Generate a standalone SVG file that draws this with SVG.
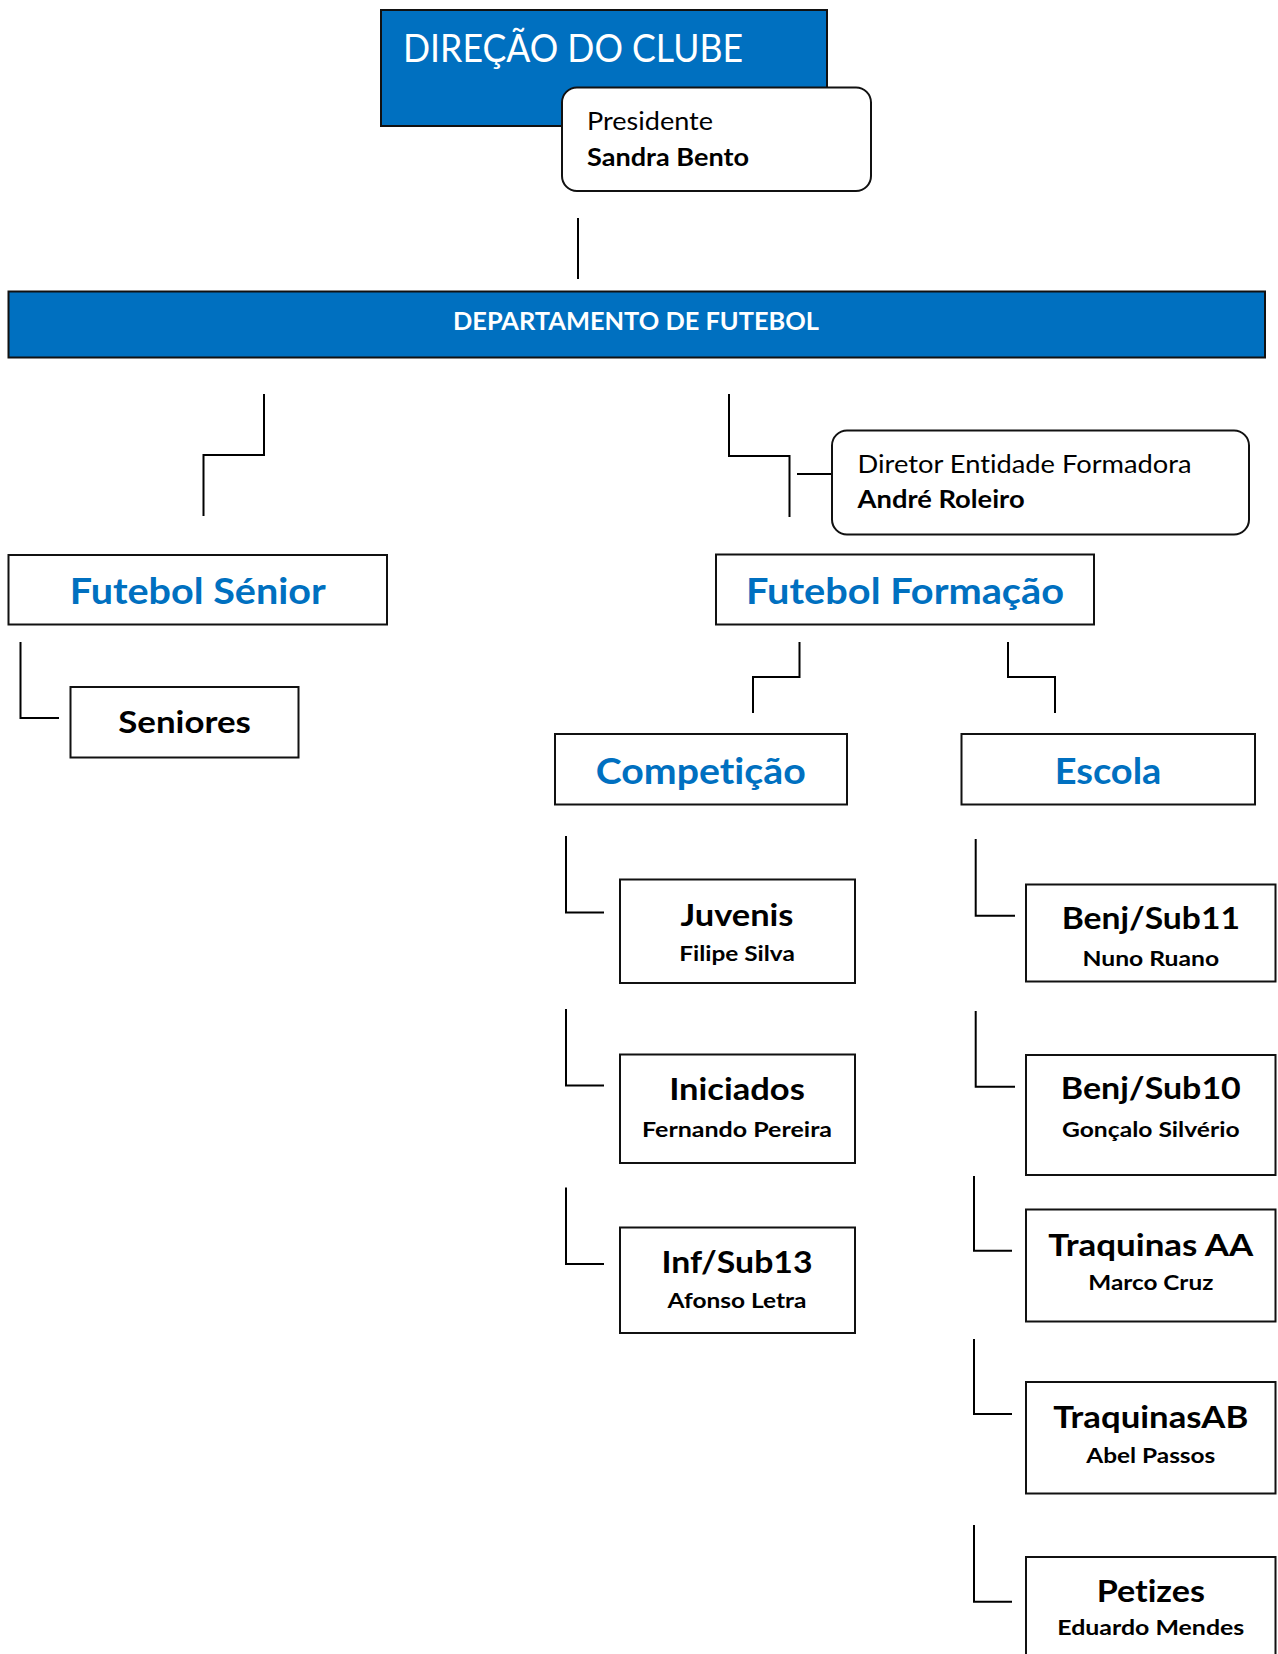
<svg xmlns="http://www.w3.org/2000/svg" width="1278" height="1654" viewBox="0 0 1278 1654">
<style>
.box{fill:#fff;stroke:#111;stroke-width:2}
.blue{fill:#0070C0;stroke:#111;stroke-width:2}
.ln{fill:none;stroke:#000;stroke-width:2}
text{font-family:Lato,"Open Sans","Liberation Sans",sans-serif;font-variant-ligatures:none;font-feature-settings:"liga" 0}
.w{fill:#fff}
.b{font-weight:bold}
.c{text-anchor:middle}
.bt{fill:#0070C0;font-weight:bold;font-size:36.5px;text-anchor:middle}
.t{fill:#000;font-weight:bold;font-size:30px;text-anchor:middle}
.s{fill:#000;font-weight:bold;font-size:21px;text-anchor:middle}
</style>
<g id="connectors">
<path class="ln" d="M578 218V279"/>
<path class="ln" d="M264 394V455H203.5V516"/>
<path class="ln" d="M729 394V456H789.5V517"/>
<path class="ln" d="M797 474H832"/>
<path class="ln" d="M20.5 642V718H59"/>
<path class="ln" d="M799.5 642V677H753V713"/>
<path class="ln" d="M1008 642V677H1055V713"/>
<path class="ln" d="M566 836V912.5H604"/>
<path class="ln" d="M566 1009V1085.5H604"/>
<path class="ln" d="M566 1187.5V1264H604"/>
<path class="ln" d="M975.7 839V915.7H1015"/>
<path class="ln" d="M975.7 1011V1086.7H1015"/>
<path class="ln" d="M974 1176V1250.7H1012"/>
<path class="ln" d="M974 1339V1414H1012"/>
<path class="ln" d="M974 1525V1601.7H1012"/>
</g>
<g id="direcao">
<rect class="blue" x="381" y="10" width="446" height="116"/>
<text class="w" x="403" y="62" font-size="37.7" textLength="340" lengthAdjust="spacingAndGlyphs">DIREÇÃO DO CLUBE</text>
</g>
<g id="presidente">
<rect class="box" x="562" y="87.5" width="309" height="103.5" rx="15"/>
<text x="587" y="130" font-size="25.5" textLength="126" lengthAdjust="spacingAndGlyphs">Presidente</text>
<text class="b" x="587" y="166" font-size="25.5" textLength="162" lengthAdjust="spacingAndGlyphs">Sandra Bento</text>
</g>
<g id="departamento">
<rect class="blue" x="8.5" y="291.5" width="1256.5" height="66"/>
<text class="w b c" x="636" y="330" font-size="25" textLength="366" lengthAdjust="spacingAndGlyphs">DEPARTAMENTO DE FUTEBOL</text>
</g>
<g id="futebol-senior">
<rect class="box" x="8.5" y="555" width="378.5" height="69.5"/>
<text class="bt" x="197.7" y="604" textLength="256" lengthAdjust="spacingAndGlyphs">Futebol Sénior</text>
</g>
<g id="diretor">
<rect class="box" x="832" y="430.5" width="417" height="104" rx="15"/>
<text x="857.6" y="472.7" font-size="25" textLength="334" lengthAdjust="spacingAndGlyphs">Diretor Entidade Formadora</text>
<text class="b" x="857.6" y="508" font-size="25" textLength="167" lengthAdjust="spacingAndGlyphs">André Roleiro</text>
</g>
<g id="futebol-formacao">
<rect class="box" x="716" y="554.5" width="378" height="70"/>
<text class="bt" x="905" y="604" textLength="318" lengthAdjust="spacingAndGlyphs">Futebol Formação</text>
</g>
<g id="seniores">
<rect class="box" x="70.5" y="687" width="228" height="70.5"/>
<text class="t" x="184.6" y="733" font-size="31" textLength="132.6" lengthAdjust="spacingAndGlyphs">Seniores</text>
</g>
<g id="competicao">
<rect class="box" x="555" y="734" width="292" height="70.5"/>
<text class="bt" x="700.7" y="784" textLength="210" lengthAdjust="spacingAndGlyphs">Competição</text>
</g>
<g id="escola">
<rect class="box" x="961.5" y="734" width="293.5" height="70.5"/>
<text class="bt" x="1108" y="784" textLength="106.7" lengthAdjust="spacingAndGlyphs">Escola</text>
</g>
<g id="juvenis">
<rect class="box" x="620" y="879.5" width="235" height="103.5"/>
<text class="t" x="737" y="925.7" textLength="113" lengthAdjust="spacingAndGlyphs">Juvenis</text>
<text class="s" x="737" y="961.4" textLength="115.7" lengthAdjust="spacingAndGlyphs">Filipe Silva</text>
</g>
<g id="iniciados">
<rect class="box" x="620" y="1054.5" width="235" height="108.5"/>
<text class="t" x="737" y="1100" textLength="135.7" lengthAdjust="spacingAndGlyphs">Iniciados</text>
<text class="s" x="737" y="1136.8" textLength="190" lengthAdjust="spacingAndGlyphs">Fernando Pereira</text>
</g>
<g id="inf-sub13">
<rect class="box" x="620" y="1227.5" width="235" height="105.5"/>
<text class="t" x="737" y="1273.2" textLength="151" lengthAdjust="spacingAndGlyphs">Inf/Sub13</text>
<text class="s" x="737" y="1308.2" textLength="139" lengthAdjust="spacingAndGlyphs">Afonso Letra</text>
</g>
<g id="benj-sub11">
<rect class="box" x="1026" y="884.5" width="249.5" height="97"/>
<text class="t" x="1150.8" y="929" textLength="178.3" lengthAdjust="spacingAndGlyphs">Benj/Sub11</text>
<text class="s" x="1150.8" y="965.7" textLength="136.7" lengthAdjust="spacingAndGlyphs">Nuno Ruano</text>
</g>
<g id="benj-sub10">
<rect class="box" x="1026" y="1055" width="249.5" height="120"/>
<text class="t" x="1150.8" y="1099" textLength="180" lengthAdjust="spacingAndGlyphs">Benj/Sub10</text>
<text class="s" x="1150.8" y="1136.7" textLength="177.7" lengthAdjust="spacingAndGlyphs">Gonçalo Silvério</text>
</g>
<g id="traquinas-aa">
<rect class="box" x="1026" y="1209.5" width="249.5" height="112"/>
<text class="t" x="1150.8" y="1255.7" textLength="205" lengthAdjust="spacingAndGlyphs">Traquinas AA</text>
<text class="s" x="1150.8" y="1290" textLength="125" lengthAdjust="spacingAndGlyphs">Marco Cruz</text>
</g>
<g id="traquinas-ab">
<rect class="box" x="1026" y="1382" width="249.5" height="111.5"/>
<text class="t" x="1150.8" y="1428.3" textLength="195" lengthAdjust="spacingAndGlyphs">TraquinasAB</text>
<text class="s" x="1150.8" y="1463.3" textLength="129" lengthAdjust="spacingAndGlyphs">Abel Passos</text>
</g>
<g id="petizes">
<rect class="box" x="1026" y="1557" width="249.5" height="110"/>
<text class="t" x="1150.8" y="1601.7" textLength="108.3" lengthAdjust="spacingAndGlyphs">Petizes</text>
<text class="s" x="1150.8" y="1635" textLength="187" lengthAdjust="spacingAndGlyphs">Eduardo Mendes</text>
</g>
</svg>
